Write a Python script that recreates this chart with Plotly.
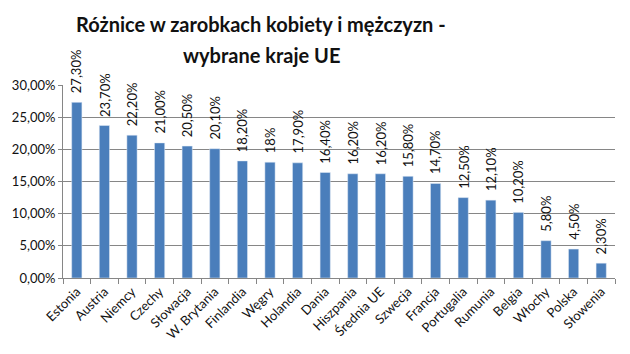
import plotly.graph_objects as go

countries = ["Estonia", "Austria", "Niemcy", "Czechy", "Słowacja", "W. Brytania", "Finlandia",
             "Węgry", "Holandia", "Dania", "Hiszpania", "Średnia UE", "Szwecja", "Francja",
             "Portugalia", "Rumunia", "Belgia", "Włochy", "Polska", "Słowenia"]
values = [27.3, 23.7, 22.2, 21.0, 20.5, 20.1, 18.2, 18.0, 17.9, 16.4, 16.2, 16.2, 15.8, 14.7,
          12.5, 12.1, 10.2, 5.8, 4.5, 2.3]
labels = ["27,30%", "23,70%", "22,20%", "21,00%", "20,50%", "20,10%", "18,20%", "18%", "17,90%",
          "16,40%", "16,20%", "16,20%", "15,80%", "14,70%", "12,50%", "12,10%", "10,20%",
          "5,80%", "4,50%", "2,30%"]
title_lines = ["Różnice w zarobkach kobiety i mężczyzn -", "wybrane kraje UE"]

FONT = "Lato"
fracs = [v / 100 for v in values]

fig = go.Figure(go.Bar(x=countries, y=fracs, marker_color="#4A7EBB", width=0.37,
                       hoverinfo="skip"))

for c, f, t in zip(countries, fracs, labels):
    fig.add_annotation(x=c, y=f, text=t, textangle=-90, showarrow=False,
                       xanchor="center", yanchor="bottom", yshift=7,
                       font=dict(family=FONT, size=13, color="#111"))

for line, yp in zip(title_lines, [1.316, 1.153]):
    fig.add_annotation(xref="paper", yref="paper", x=0.3587, y=yp, text=line,
                       showarrow=False, xanchor="center", yanchor="middle",
                       font=dict(family=FONT, size=20, color="#111", weight="bold"))

fig.update_layout(
    width=630, height=354,
    margin=dict(l=63, r=15, t=85, b=73),
    paper_bgcolor="white", plot_bgcolor="white",
    separators=", ",
    showlegend=False,
    xaxis=dict(tickangle=-45, tickson="boundaries", ticks="outside", ticklen=5,
               tickcolor="#868686", showline=True, linecolor="#868686", linewidth=1,
               showgrid=False, tickfont=dict(family=FONT, size=13, color="#111")),
    yaxis=dict(range=[0, 0.30], dtick=0.05, tickformat=".2%", showgrid=True,
               gridcolor="#868686", gridwidth=1, showline=True, linecolor="#868686",
               ticks="outside", ticklen=4, tickcolor="#868686", zeroline=False,
               tickfont=dict(family=FONT, size=13, color="#111")),
)

fig.write_html("out.html")
